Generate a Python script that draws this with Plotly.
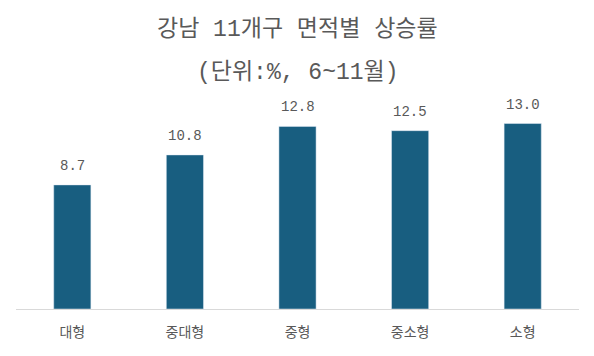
import plotly.graph_objects as go

categories = ["대형", "중대형", "중형", "중소형", "소형"]
values = [8.7, 10.8, 12.8, 12.5, 13.0]
value_labels = ["8.7", "10.8", "12.8", "12.5", "13.0"]
title_line1 = "강남 11개구 면적별 상승률"
title_line2 = "(단위:%, 6~11월)"

# page has an 8px body margin; figure is sized to fit the 594x356 window
W, H = 586, 348
ML, MR, MT, MB = 8, 15, 87, 47

fig = go.Figure()
fig.add_trace(go.Bar(
    x=categories, y=values,
    marker=dict(color="#185E80"),
    hoverinfo="x+y",
))

annotations = []
for c, v, t in zip(categories, values, value_labels):
    annotations.append(dict(
        x=c, y=v, xref="x", yref="y", text=t, showarrow=False,
        yanchor="bottom", yshift=9,
        font=dict(family="Liberation Mono, Courier New, monospace", size=14, color="#595959"),
    ))

plot_h = H - MT - MB
for txt, ypix in [(title_line1, 22), (title_line2, 64)]:
    annotations.append(dict(
        text=txt, x=0.5, y=(H - MB - ypix) / plot_h, xref="paper", yref="paper",
        showarrow=False, yanchor="middle", xanchor="center",
        font=dict(family="Liberation Mono, Noto Sans CJK KR", size=23, color="#595959"),
    ))

fig.update_layout(
    width=W, height=H,
    margin=dict(l=ML, r=MR, t=MT, b=MB),
    paper_bgcolor="white", plot_bgcolor="white",
    bargap=0.67,
    showlegend=False,
    xaxis=dict(
        showline=True, linecolor="#d9d9d9", linewidth=1,
        ticks="", ticklabelstandoff=10,
        tickfont=dict(family="Noto Sans CJK KR", size=14, color="#595959"),
        showgrid=False,
    ),
    yaxis=dict(range=[0, 15], visible=False, showgrid=False),
    annotations=annotations,
)

fig.write_html("out.html")
